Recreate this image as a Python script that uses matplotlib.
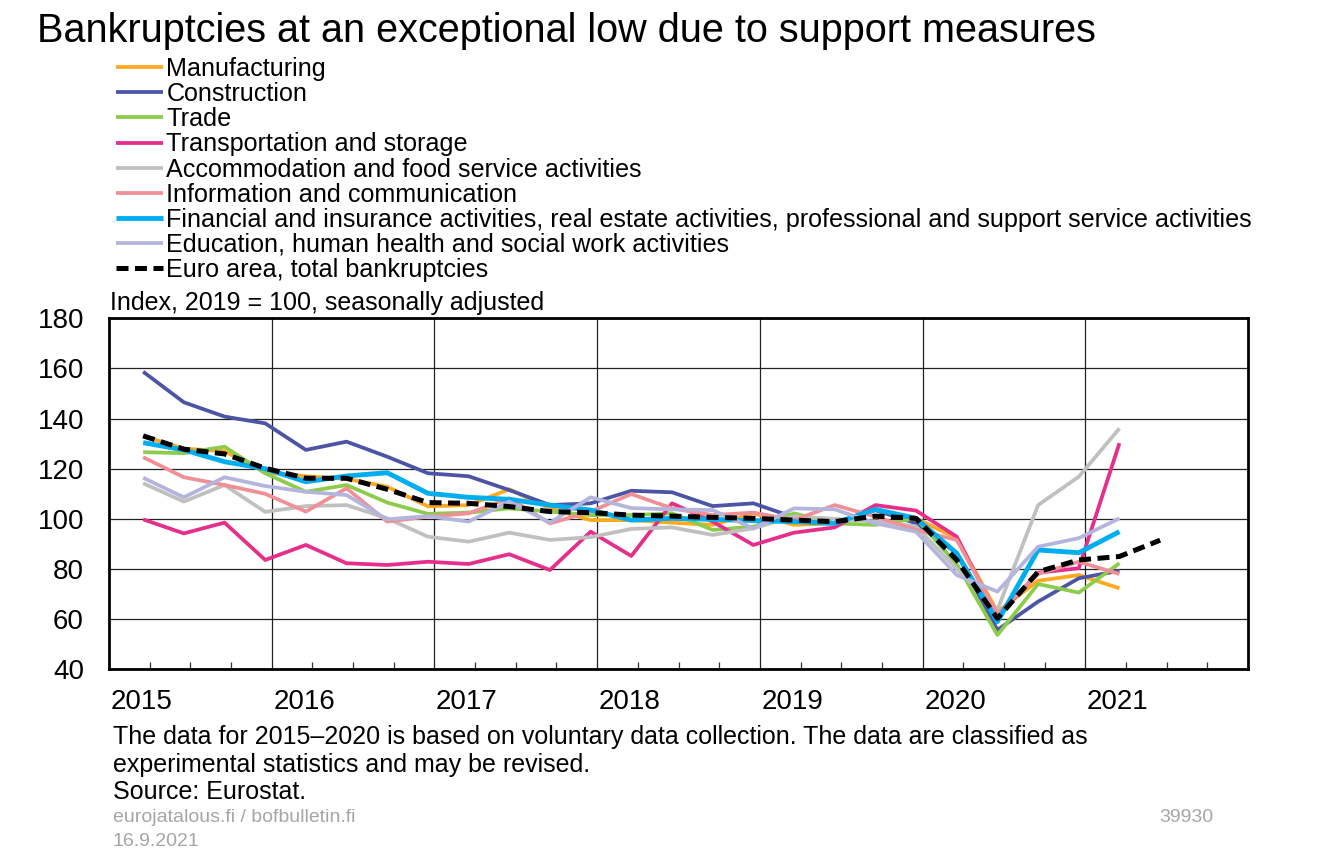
import numpy as np
import matplotlib
matplotlib.use("Agg")
import matplotlib.pyplot as plt

plt.rcParams['font.family'] = ['Liberation Sans', 'DejaVu Sans']

# quarterly index values, 2015Q1 ... 2021Q1 (euro area to 2021Q2)
manufacturing = [133, 128, 127, 118.5, 117, 116, 112.8, 105, 105.5, 111.8, 104.2, 99.5, 99.5,
                 98.5, 97.6, 102.2, 97.6, 98.2, 103.5, 100.2, 92.3, 63, 75.3, 77.6, 72.3]
construction = [158.7, 146.5, 140.8, 138.1, 127.5, 130.8, 124.8, 118.2, 117, 111.5, 105.5, 106.2, 111.2,
                110.6, 105.1, 106.2, 100.6, 98.2, 103.5, 98.2, 86.3, 55.7, 67, 76.3, 79.3]
trade = [126.6, 126.2, 128.8, 118.2, 110.8, 113.5, 106.5, 102, 102.5, 104.2, 102.9, 101.5, 101.5,
         102.2, 95.6, 96.9, 102.2, 98.2, 97.6, 100.2, 82, 53.7, 74, 70.6, 82.3]
transport = [99.8, 94.2, 98.5, 83.6, 89.6, 82.3, 81.6, 82.9, 82, 85.9, 79.6, 94.9, 85.2,
             106.2, 98.9, 89.6, 94.5, 96.6, 105.5, 103.3, 92.9, 61, 78.5, 80.3, 130.2]
accommodation = [114.2, 106.9, 113.5, 102.8, 105.1, 105.5, 100.2, 92.9, 90.9, 94.5, 91.6, 92.7, 96,
                 96.6, 93.6, 96.2, 101, 100, 99, 97, 80, 63.7, 105.5, 116.8, 136.1]
information = [124.6, 116.6, 113.5, 110, 102.9, 112.2, 98.9, 100.9, 102.2, 108.2, 98.2, 102.9, 109.9,
               104.2, 101.5, 102.5, 99.5, 105.5, 100.9, 95.6, 91.6, 62, 78, 82.9, 78]
financial = [130.4, 127.5, 122.8, 120, 114.8, 117.1, 118.4, 110.2, 108.6, 107.8, 105.5, 103.5, 99.5,
             100.2, 99.8, 99.3, 98.9, 98.2, 103.8, 100.2, 86.3, 59, 87.6, 86.5, 94.9]
education = [116.4, 108.6, 116.6, 113.1, 110.8, 109.5, 99.8, 101.1, 98.9, 106.9, 98.5, 108.6, 104.3,
             103.8, 103.5, 96.2, 104.2, 103.8, 98.2, 94.9, 77.6, 71, 88.9, 92.3, 100.2]
euro_area = [133.1, 127.8, 125.9, 120.2, 116.2, 116.2, 111.8, 106.5, 106.2, 104.9, 102.9, 102.5, 101.5,
             101.1, 100.6, 100.2, 99.5, 98.9, 101.1, 100.2, 83.6, 60.3, 78.9, 83.6, 85, 91.5]

labels = ["Manufacturing", "Construction", "Trade", "Transportation and storage",
          "Accommodation and food service activities", "Information and communication",
          "Financial and insurance activities, real estate activities, professional and support service activities",
          "Education, human health and social work activities"]
colors = ["#FFA91E", "#4B55A3", "#8DCB4B", "#E62F8A", "#C0C0C0", "#F08F96", "#00AEEF", "#B3B5DD"]
widths = [2.7, 2.7, 2.7, 2.7, 2.7, 2.7, 3.5, 2.7]
years = list(range(2015, 2022))

series = [manufacturing, construction, trade, transport, accommodation, information, financial, education]

def quarter_pos(n):
    # quarter points sit a bit after the quarter start on the time axis
    return 2015 + 0.21 + 0.25 * np.arange(n)

fig = plt.figure(figsize=(13.18, 8.61), dpi=100)
ax = fig.add_axes([109 / 1318, 1 - 669.3 / 861, (1248 - 109) / 1318, (669.3 - 318.3) / 861])

handles = []
for vals, lab, col, lw in zip(series, labels, colors, widths):
    h, = ax.plot(quarter_pos(len(vals)), vals, color=col, lw=lw, label=lab, solid_capstyle='butt')
    handles.append(h)
h, = ax.plot(quarter_pos(len(euro_area)), euro_area, color='black', lw=3.6, ls=(0, (2.4, 1.3)),
             label="Euro area, total bankruptcies")
handles.append(h)

ax.set_xlim(2015, 2022)
ax.set_ylim(40, 180)
ax.set_yticks(range(40, 181, 20))
ax.set_xticks(years[1:])
ax.set_xticklabels([])
ax.set_xticks(np.arange(2015.25, 2022, 0.25), minor=True)
ax.grid(True, which='major', color='#222222', lw=0.9)
ax.tick_params(axis='x', which='major', length=0)
ax.tick_params(axis='x', which='minor', direction='in', length=5, width=0.9, color='#333333')
ax.tick_params(axis='y', length=0, pad=18, labelsize=20)
for s in ax.spines.values():
    s.set_linewidth(2)
    s.set_zorder(5)

for yr in years:
    ax.text(yr + 0.2, -0.055, str(yr), transform=ax.get_xaxis_transform(),
            ha='center', va='top', fontsize=20)

fig.text(37 / 1318, 1 - 12 / 861, "Bankruptcies at an exceptional low due to support measures",
         fontsize=28.5, va='top', ha='left')
fig.legend(handles=handles, loc='upper left', bbox_to_anchor=(116 / 1318, 1 - 57 / 861),
           frameon=False, fontsize=18.1, handlelength=1.85, handletextpad=0.15,
           labelspacing=0.045, borderpad=0, borderaxespad=0)
fig.text(110 / 1318, 1 - 303 / 861, "Index, 2019 = 100, seasonally adjusted",
         fontsize=18, va='center', ha='left')

fig.text(113 / 1318, 1 - 737 / 861,
         "The data for 2015\u20132020 is based on voluntary data collection. The data are classified as",
         fontsize=18, va='center')
fig.text(113 / 1318, 1 - 765 / 861, "experimental statistics and may be revised.", fontsize=18, va='center')
fig.text(113 / 1318, 1 - 792 / 861, "Source: Eurostat.", fontsize=18, va='center')
fig.text(113 / 1318, 1 - 818 / 861, "eurojatalous.fi / bofbulletin.fi", fontsize=14, va='center', color='#A6A6A6')
fig.text(113 / 1318, 1 - 842 / 861, "16.9.2021", fontsize=14, va='center', color='#A6A6A6')
fig.text(1213 / 1318, 1 - 818 / 861, "39930", fontsize=14, va='center', ha='right', color='#A6A6A6')

fig.savefig("out.png", dpi=100)
